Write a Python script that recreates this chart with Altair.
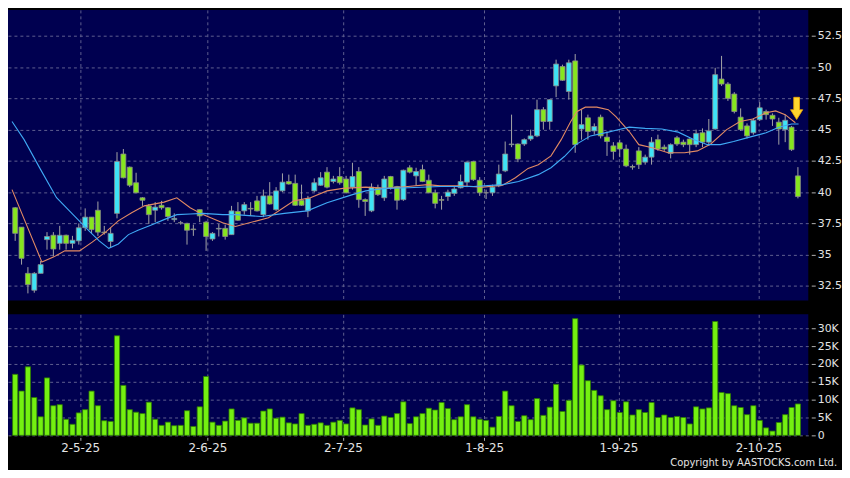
import json
import numpy as np
import pandas as pd
import altair as alt

# ---------------- data ----------------
opens = [38.75, 37.2, 33.5, 32.15, 33.5, 36.2, 36.55, 35.9, 36.55, 35.9,
         36.1, 37.15, 38.0, 38.55, 36.8, 36.05, 38.3, 43.05, 42.0, 40.75,
         39.55, 38.9, 38.55, 38.95, 38.75, 37.8, 37.55, 37.5, 37.05, 38.6,
         37.6, 36.25, 37.05, 37.1, 36.6, 38.45, 38.5, 38.7, 39.3, 38.2,
         39.7, 38.6, 40.1, 40.85, 40.7, 39.35, 38.5, 40.1, 40.55, 41.6,
         40.85, 41.25, 41.05, 40.4, 41.65, 39.4, 38.5, 40.35, 39.55, 41.25,
         40.45, 39.4, 41.95, 41.3, 41.8, 40.95, 39.95, 39.4, 39.65, 39.9,
         40.35, 40.8, 42.45, 40.95, 39.95, 39.95, 40.5, 41.7, 43.8, 43.85,
         43.85, 44.25, 44.5, 46.6, 45.65, 48.5, 50.05, 48.05, 50.5, 45.05,
         45.95, 44.9, 46.0, 44.4, 43.7, 43.95, 43.45, 42.05, 43.3, 42.4,
         42.8, 44.2, 43.6, 43.1, 44.35, 44.0, 44.25, 43.8, 44.75, 44.0,
         45.05, 49.05, 48.65, 47.85, 46.0, 45.3, 44.75, 45.8, 46.45, 46.15,
         45.6, 45.0, 45.2, 41.3]
highs = [38.8, 37.2, 34.0, 33.6, 34.5, 36.8, 36.8, 37.3, 36.6, 36.5,
         37.5, 38.7, 38.0, 39.25, 37.3, 37.15, 43.2, 43.45, 42.05, 41.55,
         39.6, 39.05, 39.2, 39.3, 38.8, 38.3, 37.7, 37.55, 37.4, 38.6,
         37.7, 36.8, 37.45, 37.4, 38.9, 39.2, 39.2, 39.2, 39.7, 40.2,
         40.8, 40.4, 41.5, 41.4, 41.4, 40.6, 39.7, 41.1, 41.6, 42.0,
         41.3, 42.0, 41.3, 42.35, 42.0, 39.5, 40.7, 40.6, 41.3, 41.3,
         40.5, 41.8, 42.15, 41.95, 42.2, 41.4, 40.2, 39.7, 40.2, 40.4,
         41.4, 42.45, 42.5, 41.2, 40.2, 40.6, 42.2, 44.05, 46.2, 43.9,
         44.3, 45.0, 47.4, 46.8, 47.45, 50.6, 50.2, 50.6, 51.05, 46.6,
         46.2, 45.5, 46.2, 44.85, 44.0, 44.2, 43.8, 42.2, 43.6, 43.0,
         44.4, 44.6, 43.8, 43.9, 44.5, 44.2, 44.3, 45.0, 45.1, 45.85,
         49.95, 50.9, 48.8, 48.0, 46.7, 45.5, 45.9, 47.2, 46.6, 46.3,
         45.95, 46.2, 45.3, 42.0]
lows = [36.1, 34.2, 31.9, 31.95, 33.5, 35.4, 34.85, 35.4, 35.4, 35.5,
        35.8, 36.9, 36.7, 36.5, 36.6, 35.55, 37.9, 41.1, 40.4, 39.9,
        38.9, 37.45, 37.6, 38.6, 37.7, 37.6, 37.4, 35.8, 36.5, 37.6,
        35.3, 36.1, 36.45, 36.2, 36.6, 37.7, 38.2, 38.1, 38.45, 38.0,
        39.0, 38.5, 40.0, 40.6, 38.9, 38.9, 38.0, 40.0, 40.5, 40.3,
        40.7, 40.6, 39.9, 40.2, 38.75, 38.1, 38.4, 39.7, 39.3, 40.2,
        38.6, 39.3, 41.5, 40.5, 40.8, 39.9, 38.7, 38.6, 39.3, 39.7,
        40.3, 40.4, 40.9, 39.7, 39.45, 39.7, 40.4, 41.6, 43.6, 42.4,
        43.7, 44.1, 44.4, 45.0, 45.0, 47.6, 48.9, 47.4, 43.15, 44.2,
        44.2, 44.6, 44.3, 42.9, 42.6, 42.8, 42.0, 41.8, 41.85, 42.2,
        42.2, 43.3, 43.3, 42.7, 43.7, 43.6, 43.0, 43.6, 43.6, 43.7,
        45.0, 48.5, 47.3, 46.3, 44.9, 44.3, 44.6, 45.7, 45.8, 45.3,
        43.8, 44.0, 43.3, 39.5]
closes = [36.7, 34.7, 32.6, 33.5, 34.2, 36.45, 35.45, 36.55, 35.9, 36.15,
          37.15, 38.0, 37.0, 36.8, 36.75, 36.7, 42.45, 41.15, 40.55, 39.95,
          39.35, 38.2, 38.8, 38.75, 38.05, 37.9, 37.55, 36.95, 37.0, 38.1,
          36.45, 36.7, 37.1, 36.45, 38.5, 37.75, 39.0, 38.65, 38.5, 39.7,
          39.05, 40.1, 40.8, 40.65, 38.95, 38.95, 39.5, 40.75, 41.15, 40.4,
          41.05, 40.75, 39.95, 41.25, 39.4, 39.25, 40.4, 39.8, 41.05, 40.35,
          39.35, 41.75, 41.6, 41.65, 40.85, 39.95, 39.1, 39.35, 40.0, 40.25,
          40.85, 42.4, 41.0, 39.95, 39.95, 40.4, 41.45, 43.05, 43.85, 42.65,
          44.2, 44.5, 46.6, 45.65, 47.4, 50.25, 48.95, 50.35, 43.8, 45.4,
          44.85, 45.25, 44.5, 44.05, 43.25, 43.45, 42.1, 42.0, 42.2, 42.8,
          44.0, 43.45, 43.45, 43.8, 43.85, 43.8, 43.8, 44.7, 44.0, 44.9,
          49.4, 48.65, 47.5, 46.45, 45.0, 44.5, 45.75, 46.75, 46.2, 45.85,
          45.05, 45.75, 43.4, 39.65]
volumes_k = [17.1, 12.4, 19.2, 10.6, 5.2, 16.1, 8.3, 8.6, 4.5, 3.1,
             6.3, 7.2, 12.4, 8.3, 4.1, 3.9, 27.9, 14.0, 7.2, 6.5,
             6.1, 9.3, 4.5, 2.8, 3.7, 2.7, 2.8, 6.9, 2.5, 8.0,
             16.5, 3.7, 2.8, 4.0, 7.4, 4.2, 4.9, 3.4, 3.4, 6.8,
             7.4, 4.8, 5.1, 3.5, 3.2, 6.1, 2.8, 3.1, 3.5, 2.8,
             3.7, 4.2, 3.2, 7.7, 7.2, 2.9, 4.6, 2.8, 5.4, 5.0,
             6.1, 9.4, 3.3, 5.2, 6.1, 7.6, 7.1, 9.2, 7.5, 4.4,
             5.2, 8.6, 5.2, 4.5, 4.2, 2.3, 5.3, 12.4, 8.3, 3.9,
             5.5, 4.4, 10.3, 5.6, 7.9, 14.3, 6.7, 9.8, 32.7, 19.7,
             15.3, 12.6, 11.1, 7.2, 9.7, 6.4, 9.4, 5.7, 7.2, 6.4,
             9.2, 5.0, 5.7, 5.0, 5.3, 5.0, 3.2, 8.0, 7.4, 7.7,
             31.9, 12.0, 11.7, 8.3, 7.8, 5.8, 8.3, 4.2, 2.1, 1.2,
             3.6, 5.8, 7.8, 8.8]

# moving averages (bar index, value)
ma_fast_i = [-0.5, 4.2, 6.0, 7.8, 10.1, 12.1, 14.2, 16.2, 18.3, 20.3, 23.4, 25.4, 27.5,
             29.5, 32.6, 34.6, 39.8, 43.8, 46.4, 49.0, 51.5, 55.1, 58.2, 61.7, 64.8,
             66.8, 69.9, 73.5, 76.6, 78.6, 80.6, 82.2, 84.2, 85.8, 87.3, 88.3, 89.6,
             91.4, 93.2, 94.4, 96.5, 98.0, 100.1, 102.6, 105.2, 107.2, 109.3, 111.8,
             113.9, 115.9, 118.0, 119.5, 121.0, 122.6]
ma_fast_v = [40.2, 34.4, 34.8, 35.3, 35.3, 36.0, 36.8, 37.7, 38.35, 38.9, 39.2, 39.55,
             38.75, 38.2, 37.55, 37.25, 37.95, 39.3, 39.55, 40.1, 40.3, 40.4, 40.3,
             40.45, 40.6, 40.5, 40.5, 40.4, 40.55, 41.15, 41.9, 42.2, 42.9, 44.2,
             45.65, 46.45, 46.8, 46.8, 46.6, 46.05, 44.85, 43.8, 43.55, 43.15, 43.15,
             43.3, 43.85, 45.0, 45.65, 45.85, 46.35, 46.5, 46.2, 45.55]
ma_slow_i = [-0.5, 1.4, 4.0, 6.5, 9.1, 11.6, 13.2, 14.7, 16.2, 17.8, 19.3, 21.3, 23.4,
             25.4, 27.5, 29.5, 32.6, 34.6, 38.7, 42.3, 45.9, 49.0, 53.0, 55.1, 58.2,
             61.7, 66.8, 72.0, 76.6, 79.1, 82.2, 84.2, 86.3, 88.1, 90.4, 93.2, 94.4,
             96.5, 99.0, 101.6, 104.2, 106.7, 108.8, 110.8, 112.9, 115.4, 118.0, 120.0,
             122.0, 123.1]
ma_slow_v = [45.65, 44.2, 41.8, 39.55, 38.2, 36.9, 36.1, 35.5, 35.85, 36.6, 36.95, 37.35,
             37.8, 38.2, 38.25, 38.3, 38.2, 38.2, 38.05, 38.3, 38.5, 39.15, 39.8, 40.1,
             40.3, 40.35, 40.45, 40.45, 40.6, 40.85, 41.4, 41.95, 42.85, 43.8, 44.5,
             44.8, 44.95, 45.2, 45.1, 45.05, 44.8, 44.2, 43.8, 43.8, 44.05, 44.4, 44.75,
             45.2, 45.45, 45.45]

date_tick_pos = [10.2, 30.2, 51.5, 73.7, 94.8, 116.8]
date_tick_labels = ["2-5-25", "2-6-25", "2-7-25", "1-8-25", "1-9-25", "2-10-25"]
price_ticks = [32.5, 35, 37.5, 40, 42.5, 45, 47.5, 50, 52.5]
volume_ticks = [0, 5000, 10000, 15000, 20000, 25000, 30000]
arrow_pos = [122.8]
arrow_val = [46.7]
copyright_text = ["Copyright by AASTOCKS.com Ltd."]

# ---------------- tables ----------------
n = len(opens)
candles = pd.DataFrame({"i": list(range(n)), "open": opens, "high": highs,
                        "low": lows, "close": closes})
candles["dir"] = np.where(candles["close"] > candles["open"], "up",
                          np.where(candles["close"] < candles["open"], "down", "flat"))
vol = pd.DataFrame({"i": list(range(n)), "vol": [v * 1000 for v in volumes_k]})
fast = pd.DataFrame({"i": ma_fast_i, "v": ma_fast_v})
slow = pd.DataFrame({"i": ma_slow_i, "v": ma_slow_v})
arrow = pd.DataFrame({"i": arrow_pos, "v": arrow_val})
cpr = pd.DataFrame({"t": copyright_text})

# ---------------- styling ----------------
NAVY = "#000050"
GRID = "#5f5f90"
LABEL = "#e4e4e4"
CYAN = "#3fe3f5"
GREEN = "#86e61e"
FONT = "DejaVu Sans"
PLOT_W = 807

xscale = alt.Scale(domain=[-0.35, 123.85], nice=False, zero=False)
pscale = alt.Scale(domain=[31.33, 54.58], nice=False, zero=False)
vscale = alt.Scale(domain=[0, 33900], nice=False, zero=False)

x_grid_axis = alt.Axis(values=date_tick_pos, grid=True, labels=False, ticks=False,
                       domain=False, title=None, minExtent=0, maxExtent=0,
                       gridColor=GRID, gridDash=[3, 3], gridWidth=1)
label_expr_dates = (f"{json.dumps(date_tick_labels)}"
                    f"[indexof({json.dumps(date_tick_pos)}, datum.value)]")
x_vol_axis = alt.Axis(values=date_tick_pos, grid=True, labelExpr=label_expr_dates,
                      ticks=True, tickSize=3, tickColor="#b0b0b0", offset=2,
                      domain=False, title=None, labelFont=FONT, labelFontSize=12,
                      labelColor=LABEL, labelPadding=2,
                      gridColor=GRID, gridDash=[3, 3], gridWidth=1)
y_price_axis = alt.Axis(orient="right", values=price_ticks, labelExpr="'' + datum.value",
                        grid=True, gridColor=GRID, gridDash=[3, 3], gridWidth=1,
                        ticks=True, tickSize=4, tickColor="#b0b0b0", offset=3,
                        domain=False, title=None, labelFont=FONT, labelFontSize=11,
                        labelColor=LABEL, labelPadding=2)
y_vol_axis = alt.Axis(orient="right", values=volume_ticks,
                      labelExpr="datum.value == 0 ? '0' : (datum.value / 1000) + 'K'",
                      grid=True, gridColor=GRID, gridDash=[3, 3], gridWidth=1,
                      ticks=True, tickSize=4, tickColor="#b0b0b0", offset=3,
                      domain=False, title=None, labelFont=FONT, labelFontSize=11,
                      labelColor=LABEL, labelPadding=2)

X = alt.X("i:Q", scale=xscale, axis=x_grid_axis)

wicks = alt.Chart(candles).mark_rule(color="#a6a6a6", strokeWidth=1).encode(
    x=X,
    y=alt.Y("low:Q", scale=pscale, axis=y_price_axis),
    y2="high:Q",
)
bodies = alt.Chart(candles).mark_bar(size=5, stroke="#8a8a8a", strokeWidth=0.8).encode(
    x=X,
    y=alt.Y("open:Q", scale=pscale, axis=y_price_axis),
    y2="close:Q",
    fill=alt.Fill("dir:N", scale=alt.Scale(domain=["up", "down", "flat"],
                                           range=[CYAN, GREEN, "#9a9a9a"]),
                  legend=None),
)
fast_line = alt.Chart(fast).mark_line(color="#e38a63", strokeWidth=1.1, clip=True).encode(
    x=X, y=alt.Y("v:Q", scale=pscale, axis=y_price_axis))
slow_line = alt.Chart(slow).mark_line(color="#3fa9f5", strokeWidth=1.1, clip=True).encode(
    x=X, y=alt.Y("v:Q", scale=pscale, axis=y_price_axis))
arrow_path = "M -0.26 -1 L 0.26 -1 L 0.26 0.12 L 0.55 0.12 L 0 1 L -0.55 0.12 L -0.26 0.12 Z"
arrow_mark = alt.Chart(arrow).mark_point(shape=arrow_path, size=500, filled=True,
                                         fill="#ffd52e", stroke="#f0a800",
                                         strokeWidth=0.8, opacity=1).encode(
    x=X, y=alt.Y("v:Q", scale=pscale, axis=y_price_axis))

price = alt.layer(wicks, bodies, fast_line, slow_line, arrow_mark).properties(
    width=PLOT_W, height=293)

vol_bars = alt.Chart(vol).mark_bar(size=5.2, fill="#74f011", stroke="#2e7d00",
                                   strokeWidth=0.8).encode(
    x=alt.X("i:Q", scale=xscale, axis=x_vol_axis),
    y=alt.Y("vol:Q", scale=vscale, axis=y_vol_axis),
)
cpr_text = alt.Chart(cpr).mark_text(align="right", baseline="alphabetic", font=FONT,
                                    fontSize=10, color=LABEL).encode(
    text="t:N", x=alt.value(836), y=alt.value(152.5))
volume = alt.layer(vol_bars, cpr_text).properties(width=PLOT_W, height=122)

chart = alt.vconcat(price, volume, spacing=14).properties(
    padding=0, background="black"
).configure_view(fill=NAVY, stroke=None)

chart.save("out.html", embed_options={"renderer": "svg", "actions": False})
